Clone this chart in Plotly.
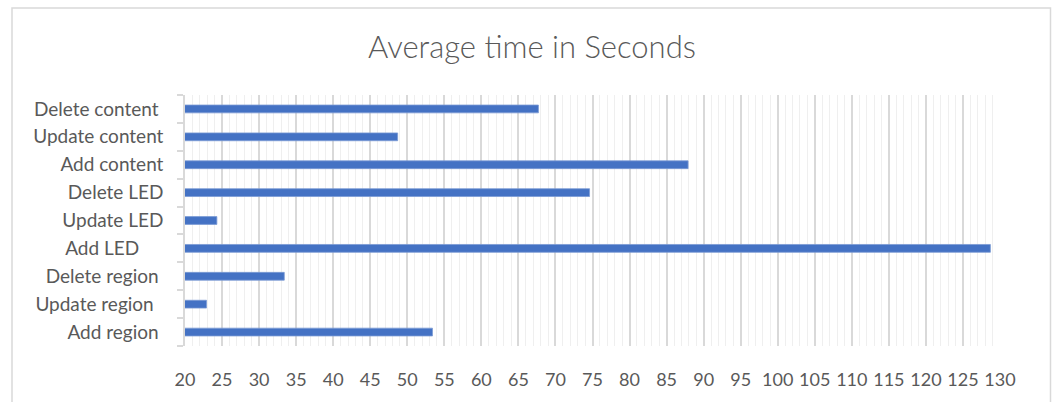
import plotly.graph_objects as go

# Operations (bottom to top) and their average duration in seconds
operations = ["Add region", "Update region", "Delete region", "Add LED", "Update LED",
              "Delete LED", "Add content", "Update content", "Delete content"]
avg_seconds = [53.4, 22.9, 33.4, 128.7, 24.3, 74.6, 87.9, 48.7, 67.7]

# trailing blank padding of each category label
label_pad = [1, 2, 1, 5, 0, 0, 0, 0, 1]

x_ticks = list(range(20, 131, 5))

W, H = 1052, 402
L, R, T, B = 185, 52, 95, 53
TEXT = "#595959"
FONT = "Lato"

tick_text = [name + "\u00a0" * pad for name, pad in zip(operations, label_pad)]

fig = go.Figure(
    go.Bar(
        x=avg_seconds,
        y=operations,
        orientation="h",
        width=0.28,
        marker=dict(color="#4472C4", line=dict(color="#7b9bd4", width=0.8)),
        hoverinfo="x+y",
    )
)

plot_w = W - L - R
plot_h = H - T - B

# light frame around the whole chart area
fig.add_shape(
    type="rect", xref="paper", yref="paper", layer="below",
    x0=(12 - L) / plot_w, x1=(1050.5 - L) / plot_w,
    y0=-(H + 10 - (H - B)) / plot_h, y1=(H - B - 7) / plot_h,
    line=dict(color="#d9d9d9", width=1.5), fillcolor="rgba(0,0,0,0)",
)

fig.update_layout(
    width=W, height=H,
    margin=dict(l=L, r=R, t=T, b=B, pad=0),
    paper_bgcolor="white", plot_bgcolor="white",
    showlegend=False,
    title=dict(
        text="Average time in Seconds",
        xref="container", x=532 / W, xanchor="center",
        yref="container", y=1 - 47 / H, yanchor="middle",
        font=dict(family=FONT, size=31, color=TEXT, weight=300),
    ),
)

fig.update_xaxes(
    range=[20, 130],
    tickmode="array", tickvals=x_ticks, ticktext=[str(v) for v in x_ticks],
    showgrid=True, gridcolor="#d9d9d9", gridwidth=1.5,
    minor=dict(dtick=1, tick0=20, showgrid=True, gridcolor="#efefef", gridwidth=1),
    zeroline=False, showline=False, ticks="",
    tickfont=dict(family=FONT, size=18, color=TEXT),
    ticklabelstandoff=21,
    fixedrange=True,
)
fig.update_yaxes(
    type="category",
    categoryorder="array", categoryarray=operations,
    tickmode="array", tickvals=operations, ticktext=tick_text,
    range=[-0.5, len(operations) - 0.5],
    showline=True, linecolor="#d9d9d9", linewidth=1.5,
    ticks="outside", tickson="boundaries", ticklen=6, tickcolor="#d9d9d9", tickwidth=1.5,
    showgrid=False, zeroline=False,
    tickfont=dict(family=FONT, size=19, color=TEXT),
    ticklabelstandoff=16,
    fixedrange=True,
)

fig.write_html("out.html")
